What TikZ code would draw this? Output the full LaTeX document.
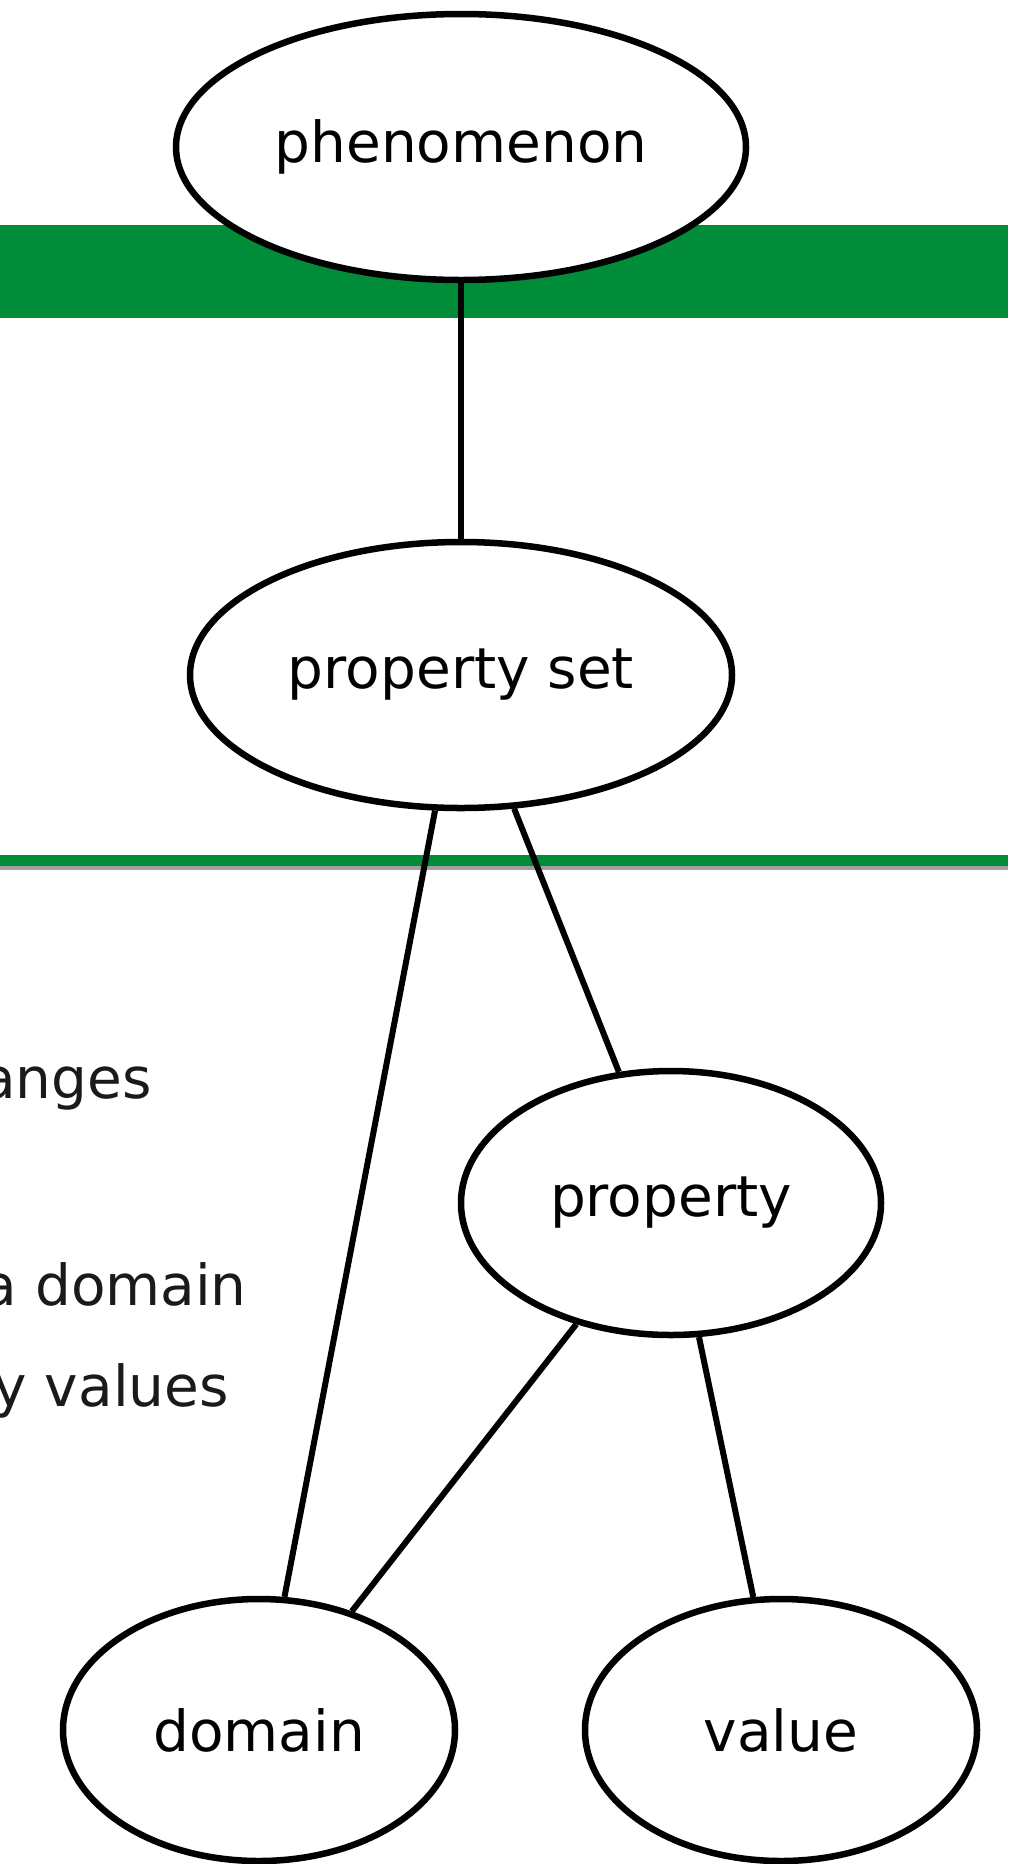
\documentclass[tikz,border=0pt]{standalone}
\usepackage{fontspec}
\setmainfont{DejaVu Sans}
\usetikzlibrary{shapes.geometric}
\definecolor{bandgreen}{RGB}{0,140,56}
\definecolor{bandgrey}{RGB}{160,160,160}
\definecolor{notegrey}{RGB}{26,26,26}
\begin{document}
\begin{tikzpicture}[x=1bp,y=-1bp]
    \tikzset{concept/.style = {shape=ellipse,draw,line width=6.5bp,fill=white,inner sep=0pt,font=\fontsize{56.5bp}{68bp}\selectfont}}
    \tikzset{link/.style = {-,line width=6bp}}
    \tikzset{note/.style = {anchor=base east,inner sep=0pt,text=notegrey,font=\fontsize{56.5bp}{68bp}\selectfont}}
    \useasboundingbox (0,0) rectangle (1008,1864);
    \clip (0,0) rectangle (1008,1864);
    % bands across the page
    \fill[bandgreen] (0,225) rectangle (1008,318);
    \fill[bandgrey] (0,866) rectangle (1008,870);
    \fill[bandgreen] (0,855) rectangle (1008,866);
    % notes cut off on the left
    \node[note] (ranges) at (152,1098) {anges};
    \node[note] (dom-note) at (247,1305) {a domain};
    \node[note] (val-note) at (229,1406) {y values};
    % concepts
    \node[concept,minimum width=570bp,minimum height=266bp] (phen) at (461,147) {phenomenon};
    \node[concept,minimum width=542bp,minimum height=266bp] (pset) at (461,675) {property set};
    \node[concept,minimum width=420bp,minimum height=264bp] (prop) at (671,1203) {property};
    \node[concept,minimum width=392bp,minimum height=262bp] (dom) at (259,1730) {domain};
    \node[concept,minimum width=392bp,minimum height=262bp] (val) at (781,1730) {value};
    % links between concepts
    \draw[link] (phen) -- (pset);
    \draw[link] (pset) -- (dom);
    \draw[link] (pset) -- (prop);
    \draw[link] (prop) -- (dom);
    \draw[link] (prop) -- (val);
\end{tikzpicture}
\end{document}
